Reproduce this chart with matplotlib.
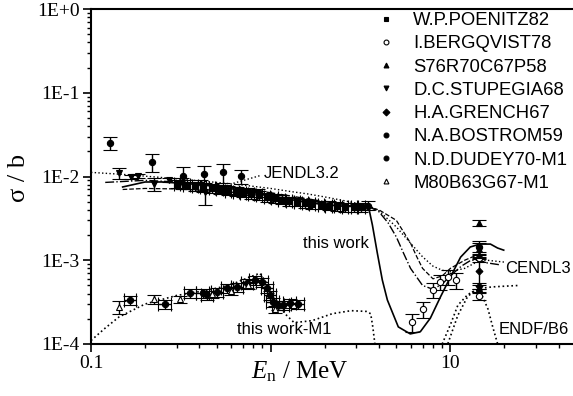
import numpy as np
import matplotlib
matplotlib.use('Agg')
import matplotlib.pyplot as plt
from matplotlib.lines import Line2D
from matplotlib.ticker import LogLocator, NullFormatter

plt.rcParams['font.family'] = 'Liberation Serif'
plt.rcParams['mathtext.fontset'] = 'custom'
plt.rcParams['mathtext.rm'] = 'Liberation Serif'
plt.rcParams['mathtext.it'] = 'Liberation Serif:italic'

# ---- measured cross sections: energy (MeV), sigma (b), relative errors ----
poenitz_E = [0.30, 0.34, 0.38, 0.42, 0.47, 0.52, 0.58, 0.64, 0.70, 0.78, 0.86, 0.95, 1.05,
             1.15, 1.27, 1.40, 1.55, 1.70, 1.90, 2.10, 2.35, 2.60, 2.90, 3.20]
poenitz_sig = [0.0082, 0.0080, 0.0077, 0.0075, 0.0072, 0.0070, 0.0068, 0.0066, 0.0064, 0.0062,
               0.0060, 0.0057, 0.0055, 0.0053, 0.0051, 0.0050, 0.0048, 0.0047, 0.0046, 0.0045,
               0.0044, 0.0043, 0.0043, 0.0043]
poenitz_err = [0.12] * 24
poenitz_xerr = [0.04] * 24

bergqvist_E = [6.14, 7.08, 8.04, 8.8, 9.75, 10.8, 14.5, 14.5]
bergqvist_sig = [1.83e-4, 2.62e-4, 4.41e-4, 5.5e-4, 6.3e-4, 5.8e-4, 1.06e-3, 3.7e-4]
bergqvist_err = [0.25, 0.22, 0.2, 0.2, 0.2, 0.22, 0.1, 0.1]

s76_E = [14.5, 14.5, 14.5, 14.5]
s76_sig = [2.8e-3, 1.35e-3, 1.15e-3, 4.6e-4]
s76_err = [0.08, 0.2, 0.1, 0.1]

stupegia_E = [0.143, 0.167, 0.183, 0.224, 0.272, 0.32, 0.41, 0.43, 0.55, 0.65, 0.75, 0.85]
stupegia_sig = [0.0110, 0.0099, 0.0102, 0.0081, 0.0091, 0.0084, 0.0079, 0.0065, 0.0071,
                0.0069, 0.0066, 0.0064]
stupegia_err = [0.15, 0.05, 0.05, 0.18, 0.06, 0.15, 0.15, 0.3, 0.1, 0.1, 0.1, 0.1]

grench_E = [14.5, 14.5]
grench_sig = [7.5e-4, 4.9e-4]
grench_err = [0.4, 0.08]

bostrom_E = [0.128, 0.219, 0.326, 0.426, 0.544, 0.685, 3.5, 14.4]
bostrom_sig = [0.025, 0.0150, 0.0101, 0.0108, 0.0113, 0.0101, 0.0045, 1.45e-3]
bostrom_err = [0.18, 0.24, 0.3, 0.25, 0.25, 0.2, 0.12, 0.18]

dudey_E = [0.165, 0.258, 0.356, 0.42, 0.443, 0.504, 0.572, 0.651, 0.74, 0.82, 0.897, 0.956,
           0.993, 1.03, 1.10, 1.17, 1.28, 1.41]
dudey_sig = [3.35e-4, 3.0e-4, 4.07e-4, 4.07e-4, 3.85e-4, 4.18e-4, 4.66e-4, 4.8e-4, 5.35e-4,
             5.8e-4, 5.5e-4, 4.66e-4, 3.85e-4, 3.17e-4, 2.92e-4, 2.92e-4, 3.06e-4, 2.98e-4]
dudey_err = [0.12] * 18
dudey_xerr = [0.08] * 18

m80_E = [0.143, 0.224, 0.313, 0.47, 0.6, 0.75, 1.05]
m80_sig = [2.77e-4, 3.45e-4, 3.4e-4, 3.9e-4, 4.3e-4, 5.0e-4, 2.6e-4]
m80_err = [0.17, 0.12, 0.1, 0.1, 0.1, 0.1, 0.1]

# ---- evaluated / calculated curves ----
thiswork_E = [0.15, 0.2, 0.25, 0.35, 0.5, 0.7, 1.0, 1.5, 2.0, 2.6, 3.2, 3.49, 3.68, 3.92,
              4.18, 4.46, 5.13, 5.98, 6.8, 7.74, 8.8, 10.0, 11.4, 12.9, 14.6, 16.7, 18.3, 19.8]
thiswork_sig = [0.0075, 0.0086, 0.0086, 0.0082, 0.0076, 0.0068, 0.0059, 0.0050, 0.0046, 0.0044,
                0.0044, 0.0045, 2.64e-3, 1.22e-3, 5.8e-4, 3.35e-4, 1.6e-4, 1.32e-4, 1.4e-4,
                2.04e-4, 3.64e-4, 6.3e-4, 1.09e-3, 1.44e-3, 1.56e-3, 1.56e-3, 1.4e-3, 1.32e-3]

jendl_E = [0.1, 0.15, 0.2, 0.3, 0.5, 0.7, 1.0, 1.3, 1.6, 2.0, 2.5, 3.0, 3.5, 4.0, 5.0, 6.0,
           7.0, 8.0, 9.0, 10, 12, 14, 16, 20]
jendl_sig = [0.0112, 0.0106, 0.0101, 0.0094, 0.0085, 0.0079, 0.0072, 0.0066, 0.0062, 0.0057,
             0.0052, 0.0048, 0.0045, 0.0039, 0.0025, 0.0016, 0.0011, 8.5e-4, 7.6e-4, 7.3e-4,
             8e-4, 9.5e-4, 1.0e-3, 9.5e-4]

cendl_E = [0.12, 0.2, 0.3, 0.5, 0.8, 1.2, 2.0, 3.0, 3.5, 4.0, 4.5, 5.0, 5.5, 6.0, 7.0, 8.0,
           9.0, 10.0, 11.5, 13, 14.5, 16, 19]
cendl_sig = [0.0085, 0.0090, 0.0086, 0.0078, 0.0069, 0.0060, 0.0050, 0.0045, 0.0044, 0.0038,
             0.0028, 0.0019, 0.0012, 8.0e-4, 5.0e-4, 4.5e-4, 5.2e-4, 6.5e-4, 8.5e-4, 1.0e-3,
             1.0e-3, 9.3e-4, 8.8e-4]

endf_E = [0.15, 0.2, 0.3, 0.5, 0.8, 1.2, 2.0, 3.0, 3.5, 4, 5, 6, 6.5, 7, 8, 9, 10, 12, 14, 15]
endf_sig = [0.0070, 0.0072, 0.0071, 0.0067, 0.0062, 0.0056, 0.0048, 0.0044, 0.0043, 0.0040,
            0.0030, 0.0016, 0.0011, 8e-4, 6e-4, 6.5e-4, 8e-4, 1.0e-3, 1.15e-3, 1.1e-3]

m1_E = [0.1, 0.12, 0.143, 0.2, 0.3, 0.45, 0.6, 0.75, 0.87, 0.95, 1.05, 1.2, 1.35, 1.7, 2.2,
        2.8, 3.4, 3.6, 3.7, 3.8]
m1_sig = [1.1e-4, 1.55e-4, 2.1e-4, 3.0e-4, 3.8e-4, 4.4e-4, 5.1e-4, 6.2e-4, 7.0e-4, 5.3e-4,
          3.4e-4, 2.3e-4, 1.8e-4, 1.9e-4, 2.3e-4, 2.5e-4, 2.45e-4, 2.3e-4, 1.6e-4, 1.0e-4]
m1_high_E = [9.0, 10, 11, 12.5, 14.5, 17, 20, 24]
m1_high_sig = [1.0e-4, 1.7e-4, 2.9e-4, 3.9e-4, 4.6e-4, 4.8e-4, 4.9e-4, 5.0e-4]

endf_m1_E = [9.5, 11, 12.4, 13.3, 14.1, 15, 16.2, 17.2, 18.2, 19.0]
endf_m1_sig = [9e-5, 2.2e-4, 3.6e-4, 4.2e-4, 4.4e-4, 3.8e-4, 2.6e-4, 1.6e-4, 1.05e-4, 8e-5]

y_ticks = [1e-4, 1e-3, 1e-2, 1e-1, 1e0]
y_tick_labels = ['1E-4', '1E-3', '1E-2', '1E-1', '1E+0']
x_ticks = [0.1, 1, 10]
x_tick_labels = ['0.1', '', '10']

fig = plt.figure(figsize=(5.73, 3.96), dpi=100)
ax = fig.add_axes([91/573, 52/396, 485/573, 335/396])

# curves
ax.plot(jendl_E, jendl_sig, ':', color='k', lw=1.0)
ax.plot([0.62, 0.88], [0.0083, 0.0103], ':', color='k', lw=1.0)
ax.plot(cendl_E, cendl_sig, '-.', color='k', lw=1.0)
ax.plot(endf_E, endf_sig, '--', color='k', lw=0.9)
ax.plot(thiswork_E, thiswork_sig, '-', color='k', lw=1.2)
ax.plot(m1_E, m1_sig, ':', color='k', lw=1.2)
ax.plot(m1_high_E, m1_high_sig, ':', color='k', lw=1.2)
ax.plot(endf_m1_E, endf_m1_sig, ':', color='k', lw=1.2)

# measurements
series = [
    ('W.P.POENITZ82', 's', 'k', poenitz_E, poenitz_sig, poenitz_err, poenitz_xerr),
    ('I.BERGQVIST78', 'o', 'white', bergqvist_E, bergqvist_sig, bergqvist_err, None),
    ('S76R70C67P58', '^', 'k', s76_E, s76_sig, s76_err, None),
    ('D.C.STUPEGIA68', 'v', 'k', stupegia_E, stupegia_sig, stupegia_err, None),
    ('H.A.GRENCH67', 'D', 'k', grench_E, grench_sig, grench_err, None),
    ('N.A.BOSTROM59', 'o', 'k', bostrom_E, bostrom_sig, bostrom_err, None),
    ('N.D.DUDEY70-M1', 'o', 'k', dudey_E, dudey_sig, dudey_err, dudey_xerr),
    ('M80B63G67-M1', '^', 'white', m80_E, m80_sig, m80_err, None),
]
handles = []
for name, mk, fc, E, sig, err, xerr in series:
    E = np.array(E)
    sig = np.array(sig)
    yerr = sig * np.array(err)
    xe = E * np.array(xerr) if xerr is not None else None
    ms = 3.5 if mk == 'D' else 4.5
    ax.errorbar(E, sig, yerr=yerr, xerr=xe, fmt=mk, ms=ms, mfc=fc, mec='k', mew=0.8,
                ecolor='k', elinewidth=1.0, capsize=5, capthick=1.0, zorder=3)
    handles.append(Line2D([], [], ls='none', marker=mk, ms=3.5, mfc=fc, mec='k',
                          mew=0.8, label=name))

lab = dict(family='Liberation Sans', size=12)
ax.text(0.91, 0.0108, 'JENDL3.2', ha='left', va='center', fontdict=lab)
ax.text(1.52, 1.6e-3, 'this work', ha='left', va='center', fontdict=lab)
ax.text(0.65, 1.47e-4, 'this work-M1', ha='left', va='center', fontdict=lab)
ax.text(20.2, 8.0e-4, 'CENDL3', ha='left', va='center', fontdict=lab)
ax.text(18.5, 1.5e-4, 'ENDF/B6', ha='left', va='center', fontdict=lab)

ax.legend(handles=handles, loc='upper left', bbox_to_anchor=(377/573, 1 - 12/396),
          bbox_transform=fig.transFigure, frameon=False, borderpad=0, borderaxespad=0,
          handlelength=1.0, handletextpad=0.95, labelspacing=0.34,
          prop={'family': 'Liberation Sans', 'size': 13.3})

ax.set_xscale('log')
ax.set_yscale('log')
ax.set_xlim(0.1, 50)
ax.set_ylim(1e-4, 1)
ax.set_xticks(x_ticks)
ax.set_xticklabels(x_tick_labels)
ax.set_yticks(y_ticks)
ax.set_yticklabels(y_tick_labels)
ax.xaxis.set_minor_locator(LogLocator(base=10, subs=np.arange(2, 10)))
ax.yaxis.set_minor_locator(LogLocator(base=10, subs=np.arange(2, 10)))
ax.xaxis.set_minor_formatter(NullFormatter())
ax.yaxis.set_minor_formatter(NullFormatter())
ax.tick_params(which='major', direction='out', length=6, width=1.2, labelsize=14, pad=2)
ax.tick_params(which='minor', direction='out', length=3, width=1.0)
for sp in ax.spines.values():
    sp.set_linewidth(1.5)

fig.text(19/573, 1 - 178/396, 'σ / b', rotation=90, ha='center', va='center', fontsize=19)
fig.text(300/573, 1 - 372/396, r'$E_\mathrm{n}$ / MeV', ha='center', va='center', fontsize=18)

fig.savefig('out.png', dpi=100)
